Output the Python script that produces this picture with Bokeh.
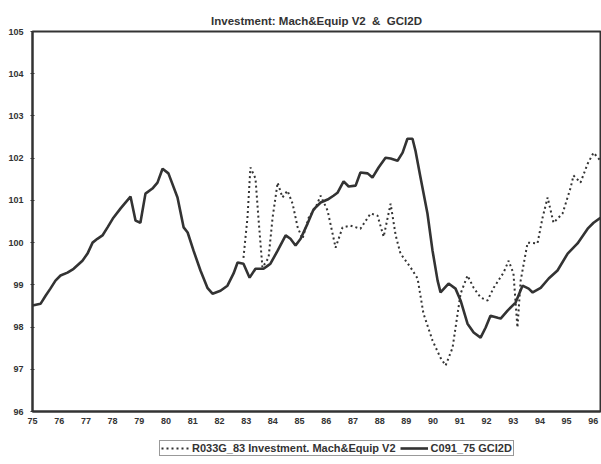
from bokeh.plotting import figure
from bokeh.layouts import column
from bokeh.models import Range1d, FixedTicker, Legend, LegendItem
from bokeh.embed import file_html
from bokeh.resources import INLINE

# C091_75 GCI2D (solid)
gci_year = [1975.00, 1975.30, 1975.49, 1975.67, 1975.86, 1976.05, 1976.31, 1976.54, 1976.87, 1977.06,
            1977.25, 1977.43, 1977.62, 1977.81, 1978.03, 1978.30, 1978.67, 1978.86, 1979.04, 1979.23,
            1979.49, 1979.68, 1979.87, 1980.09, 1980.43, 1980.66, 1980.81, 1981.03, 1981.29, 1981.55,
            1981.74, 1982.04, 1982.30, 1982.53, 1982.68, 1982.90, 1983.13, 1983.35, 1983.65, 1983.80,
            1983.91, 1984.18, 1984.48, 1984.66, 1984.85, 1985.04, 1985.30, 1985.52, 1985.79, 1986.05,
            1986.27, 1986.42, 1986.65, 1986.84, 1987.10, 1987.28, 1987.55, 1987.73, 1987.96, 1988.22,
            1988.41, 1988.67, 1988.86, 1989.04, 1989.23, 1989.34, 1989.53, 1989.79, 1989.98, 1990.17,
            1990.28, 1990.58, 1990.84, 1991.03, 1991.29, 1991.52, 1991.78, 1991.97, 1992.15, 1992.42,
            1992.53, 1992.79, 1993.09, 1993.35, 1993.58, 1993.73, 1994.03, 1994.33, 1994.66, 1995.04,
            1995.41, 1995.79, 1996.01, 1996.27]
gci_value = [98.51, 98.55, 98.74, 98.91, 99.10, 99.22, 99.29, 99.38, 99.57, 99.74,
             100.00, 100.09, 100.17, 100.36, 100.59, 100.81, 101.09, 100.52, 100.47, 101.16,
             101.28, 101.42, 101.75, 101.64, 101.07, 100.36, 100.24, 99.81, 99.34, 98.93,
             98.79, 98.86, 98.98, 99.27, 99.53, 99.50, 99.17, 99.38, 99.38, 99.45,
             99.50, 99.81, 100.17, 100.09, 99.93, 100.09, 100.45, 100.78, 100.95, 101.02,
             101.11, 101.18, 101.45, 101.33, 101.35, 101.66, 101.64, 101.54, 101.78, 102.01,
             101.99, 101.94, 102.13, 102.46, 102.46, 102.18, 101.54, 100.69, 99.81, 99.10,
             98.82, 99.03, 98.91, 98.63, 98.08, 97.87, 97.75, 97.99, 98.27, 98.22,
             98.20, 98.39, 98.58, 98.98, 98.91, 98.82, 98.93, 99.15, 99.34, 99.74,
             99.98, 100.33, 100.47, 100.59]

# R033G_83 Investment. Mach&Equip V2 (dotted)
inv_year = [1982.90, 1983.05, 1983.16, 1983.35, 1983.46, 1983.61, 1983.84, 1983.99, 1984.18, 1984.36,
            1984.55, 1984.74, 1984.93, 1985.11, 1985.34, 1985.60, 1985.79, 1986.05, 1986.35, 1986.61,
            1986.91, 1987.28, 1987.66, 1987.92, 1988.15, 1988.41, 1988.60, 1988.78, 1989.16, 1989.42,
            1989.64, 1989.98, 1990.28, 1990.47, 1990.73, 1991.03, 1991.29, 1991.52, 1991.78, 1992.04,
            1992.27, 1992.64, 1992.83, 1993.01, 1993.16, 1993.28, 1993.54, 1993.91, 1994.10, 1994.29,
            1994.51, 1994.85, 1995.15, 1995.26, 1995.52, 1995.79, 1996.01, 1996.27]
inv_value = [99.64, 100.59, 101.78, 101.52, 100.59, 99.41, 99.64, 100.59, 101.42, 101.07,
             101.23, 100.92, 100.36, 100.09, 100.59, 100.83, 101.11, 100.76, 99.88, 100.36,
             100.40, 100.33, 100.69, 100.64, 100.14, 100.92, 100.17, 99.74, 99.41, 99.15,
             98.32, 97.68, 97.27, 97.09, 97.51, 98.79, 99.22, 98.93, 98.70, 98.63,
             98.93, 99.29, 99.57, 99.27, 97.99, 99.10, 100.00, 99.98, 100.59, 101.07,
             100.47, 100.69, 101.30, 101.59, 101.42, 101.87, 102.13, 101.94]

x_ticks = list(range(1975, 1997))
x_labels = [str(y)[2:] for y in x_ticks]
y_ticks = list(range(96, 106))

title_text = "Investment: Mach&Equip V2\u00a0 &\u00a0 GCI2D"
label_inv = "R033G_83 Investment. Mach&Equip V2"
label_gci = "C091_75 GCI2D"

FONT = "Liberation Sans"
INK = "#333333"

p = figure(width=601, height=430, output_backend="svg", toolbar_location=None,
           x_range=Range1d(1975, 1996.27), y_range=Range1d(96, 105),
           min_border_left=32, min_border_right=1, min_border_top=31, min_border_bottom=19)

p.title.text = title_text
p.title.align = "center"
p.title.text_font = FONT
p.title.text_font_size = "11.5px"
p.title.text_font_style = "bold"
p.title.text_color = "#333333"
p.title.offset = 12

p.xgrid.visible = False
p.ygrid.visible = False
p.outline_line_color = INK
p.outline_line_width = 2
p.background_fill_color = "white"
p.border_fill_color = "white"

p.xaxis.ticker = FixedTicker(ticks=x_ticks)
p.xaxis.major_label_overrides = {t: l for t, l in zip(x_ticks, x_labels)}
p.yaxis.ticker = FixedTicker(ticks=y_ticks)
for ax in (p.xaxis, p.yaxis):
    ax.axis_line_color = INK
    ax.axis_line_width = 2
    ax.major_tick_line_color = INK
    ax.major_tick_in = 2
    ax.major_tick_out = 2
    ax.minor_tick_line_color = None
    ax.major_label_text_font = FONT
    ax.major_label_text_font_size = "9px"
    ax.major_label_text_font_style = "bold"
    ax.major_label_text_color = "#333333"
p.xaxis.major_tick_line_color = None
p.xaxis.major_label_standoff = 4
p.yaxis.major_label_standoff = 7

p.line(inv_year, inv_value, line_color=INK, line_width=2, line_dash="2 3")
p.line(gci_year, gci_value, line_color=INK, line_width=2.6)

# legend strip below the chart (its key lines lie outside the strip's visible range)
lg = figure(width=601, height=34, output_backend="svg", toolbar_location=None,
            x_range=Range1d(0, 1), y_range=Range1d(0, 1),
            x_axis_type=None, y_axis_type=None,
            min_border_left=0, min_border_right=0, min_border_top=0, min_border_bottom=0)
lg.xgrid.visible = False
lg.ygrid.visible = False
lg.outline_line_color = None
lg.background_fill_color = "white"
lg.border_fill_color = "white"
k_inv = lg.line([-10, -9], [-10, -9], line_color=INK, line_width=2, line_dash="2 3")
k_gci = lg.line([-10, -9], [-10, -9], line_color=INK, line_width=2.6)

legend = Legend(items=[LegendItem(label=label_inv, renderers=[k_inv]),
                       LegendItem(label=label_gci, renderers=[k_gci])],
                orientation="horizontal", location=(127, 8))
legend.label_text_font = FONT
legend.label_text_font_size = "11px"
legend.label_text_font_style = "bold"
legend.label_text_color = "#333333"
legend.glyph_width = 28
legend.glyph_height = 8
legend.label_height = 8
legend.label_standoff = 3
legend.spacing = 4
legend.padding = 1
legend.margin = 0
legend.border_line_color = INK
legend.border_line_width = 1.5
legend.background_fill_alpha = 1
lg.add_layout(legend, "center")

layout = column(p, lg, spacing=0)
open("out.html", "w").write(file_html(layout, INLINE))
